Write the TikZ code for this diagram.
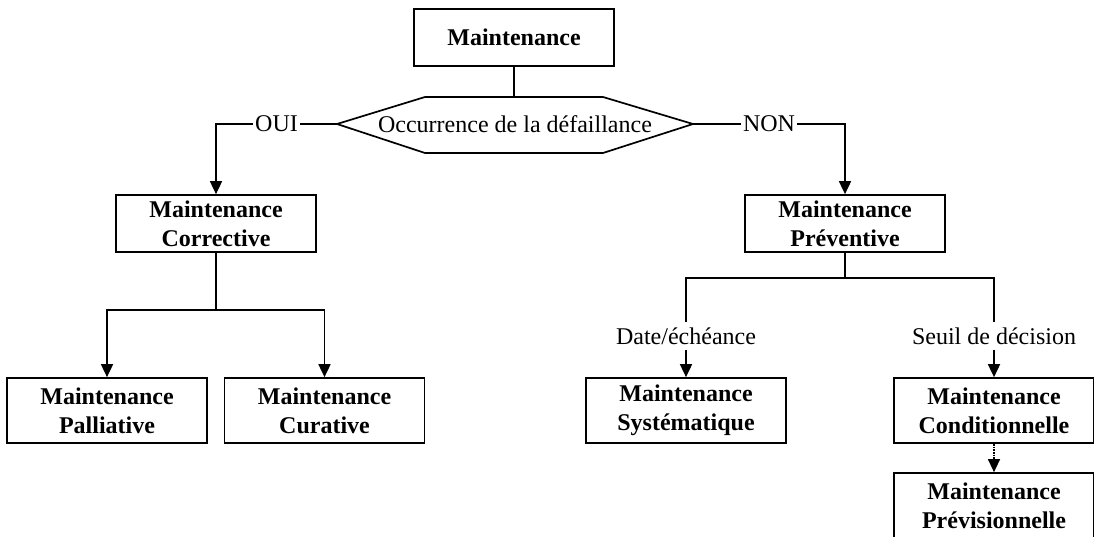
\documentclass[tikz,border=0pt]{standalone}
\usepackage{fontspec}
\setmainfont{Liberation Serif}
\usetikzlibrary{arrows.meta,calc}
\begin{document}
\begin{tikzpicture}[x=1pt,y=-1pt,
  box/.style={draw,line width=1.7pt,minimum width=200pt,minimum height=57pt,inner sep=0pt,align=center,font=\fontsize{24}{29}\selectfont\bfseries},
  tallbox/.style={box,minimum height=65pt},
  lbl/.style={font=\fontsize{24}{29}\selectfont,inner xsep=2pt,inner ysep=5pt,fill=white},
  conn/.style={line width=1.7pt},
  arr/.style={conn,-{Triangle[length=13pt,width=12pt]}}]
\fill[white] (0,0) rectangle (1094,537);
\useasboundingbox (0,0) rectangle (1094,537);
\clip (0,0) rectangle (1094,537);
% top
\node[box] (m) at (514,37.5) {Maintenance};
\coordinate (hl) at (337,124);
\coordinate (hr) at (693,124);
\coordinate (ht) at (514,97);
\draw[conn] (hl) -- (425,97) -- (603,97) -- (hr) -- (603,153) -- (425,153) -- cycle;
\node[lbl,fill=none] (occ) at (515,124) {Occurrence de la défaillance};
\draw[conn] (m.south) -- (ht);
% level 2
\node[box] (cor) at (216,223.5) {Maintenance\\Corrective};
\node[box] (prev) at (845,223.5) {Maintenance\\Préventive};
\draw[arr] (hl) -- node[lbl,inner ysep=1pt]{OUI} (cor.north |- hl) -- (cor.north);
\draw[arr] (hr) -- node[lbl,inner ysep=1pt]{NON} (prev.north |- hr) -- (prev.north);
% corrective children
\node[tallbox] (pal) at (107,410.5) {Maintenance\\Palliative};
\node[tallbox] (cur) at (324.5,410.5) {Maintenance\\Curative};
\coordinate (cj) at (216,310);
\draw[conn] (cor.south) -- (cj);
\draw[arr] (cj) -| (pal.north);
\draw[arr] (cj) -| (cur.north);
% preventive children
\node[tallbox] (sys) at (686,410.5) {Maintenance\\Systématique};
\node[tallbox] (cond) at (994,410.5) {Maintenance\\Conditionnelle};
\node[tallbox] (previs) at (994,505.5) {Maintenance\\Prévisionnelle};
\node[lbl] (date) at (686,336) {Date/échéance};
\node[lbl] (seuil) at (994,336) {Seuil de décision};
\coordinate (pj) at (845,278);
\draw[conn] (prev.south) -- (pj);
\draw[conn] (pj) -| (date.north);
\draw[conn] (pj) -| (seuil.north);
\draw[arr] (date.south) -- (sys.north);
\draw[arr] (seuil.south) -- (cond.north);
\draw[arr,densely dotted,line width=1.3pt] (cond.south) -- (previs.north);
\end{tikzpicture}
\end{document}
